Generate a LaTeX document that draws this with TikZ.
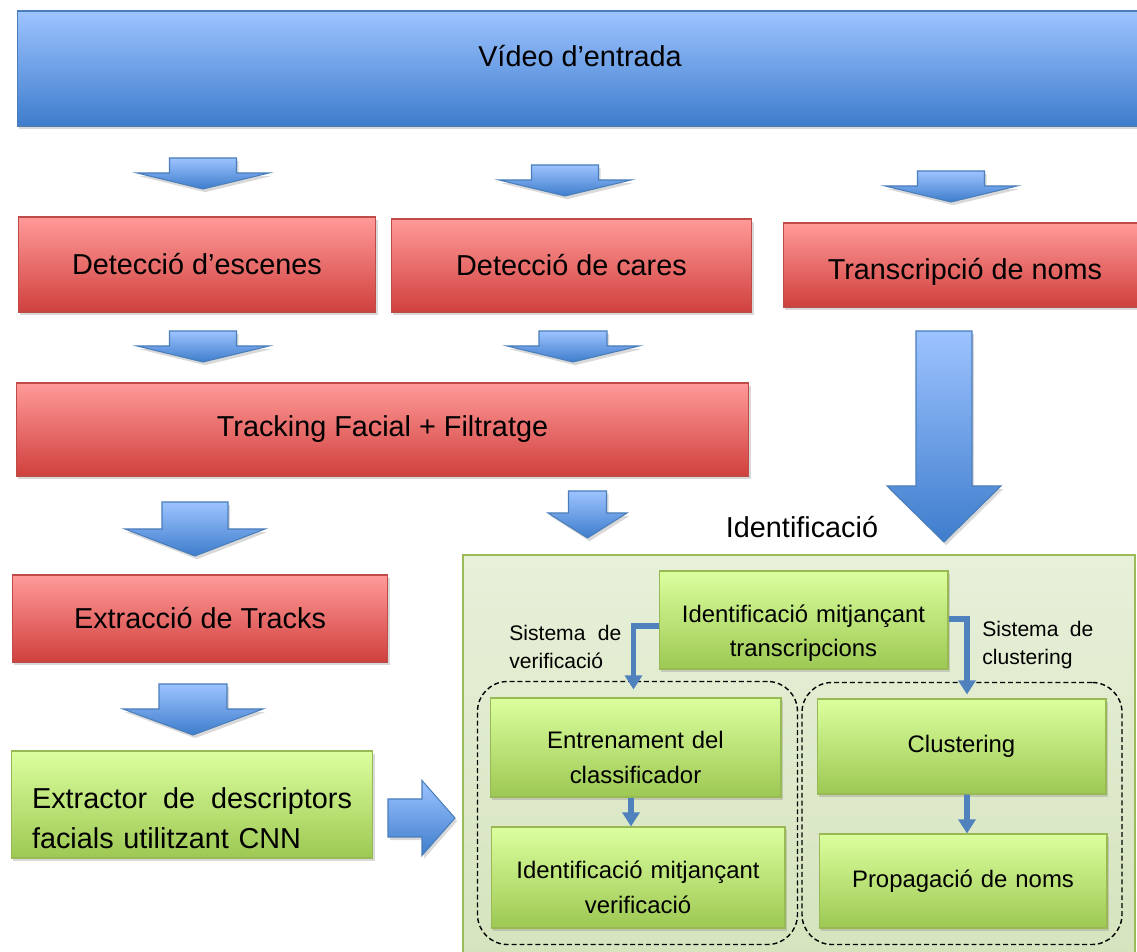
\documentclass[tikz,border=0pt]{standalone}
\usepackage{fontspec}
\setmainfont{Liberation Sans}
\usetikzlibrary{arrows.meta, shadows, fit, calc}
\definecolor{cBlueTop}{HTML}{9DC3FF}
\definecolor{cBlueBot}{HTML}{3E7DCC}
\definecolor{cBlueLine}{HTML}{4A7EBB}
\definecolor{cRedTop}{HTML}{FF9A99}
\definecolor{cRedBot}{HTML}{D0403D}
\definecolor{cRedLine}{HTML}{BE4B48}
\definecolor{cGreenTop}{HTML}{DBFF9E}
\definecolor{cGreenBot}{HTML}{9DC853}
\definecolor{cGreenLine}{HTML}{98B954}
\definecolor{cPanelTop}{HTML}{E7F0D9}
\definecolor{cPanelBot}{HTML}{D5E3BD}
\definecolor{cPanelLine}{HTML}{9BBB59}
\definecolor{cFlow}{HTML}{4F81BD}
\tikzset{
  boxshadow/.style={
    drop shadow={shadow xshift=1.2pt, shadow yshift=-1.8pt, opacity=0.3}
  },
  stagebox/.style={
    draw=#1Line, top color=#1Top, bottom color=#1Bot, line width=0.6pt,
    align=center, inner sep=2pt, boxshadow,
    font=\fontsize{16.4}{22.7}\selectfont
  },
  substep/.style={
    stagebox=cGreen, text width=5.4cm, font=\fontsize{13.6}{19.9}\selectfont
  },
  textdrop/.style={
    execute at begin node={\rule{0pt}{#1}}
  },
  maintext/.style={
    font=\fontsize{16.4}{22.7}\selectfont, inner sep=0pt
  },
  sidenote/.style={
    font=\fontsize{12}{15.6}\selectfont, align=left, inner sep=0pt
  },
  panel/.style={
    draw=cPanelLine, top color=cPanelTop, bottom color=cPanelBot,
    line width=1pt
  },
  groupframe/.style={
    draw=black, dash pattern=on 2.8pt off 1.7pt, line width=0.8pt,
    rounded corners=0.6cm, inner ysep=0.32cm
  },
  flowarrow/.style={
    draw=cFlow, line width=3.2pt, -{Triangle[width=9.6pt, length=8pt]}
  },
  blockarrow/.style={
    draw=cBlueLine, line width=0.6pt, top color=cBlueTop,
    bottom color=cBlueBot, boxshadow
  },
  pics/blkdown/.style n args={4}{code={
    \path[blockarrow] (-#1,0) -- (#1,0) -- (#1,#3) -- (#2,#3)
      -- (0,#3+#4) -- (-#2,#3) -- (-#1,#3) -- cycle;
  }},
  pics/blkright/.style n args={4}{code={
    \path[blockarrow] (0,-#1) -- (#3,-#1) -- (#3,-#2) -- (#3+#4,0)
      -- (#3,#2) -- (#3,#1) -- (0,#1) -- cycle;
  }},
}

\begin{document}
\begin{tikzpicture}[x=0.02cm, y=-0.02cm]
\useasboundingbox (0,0) rectangle (1137,952);

% ---- Input ----
\node[stagebox=cBlue, minimum width=22.6cm, minimum height=2.3cm]
  (video) at (582,68.5) {};
\node[maintext] (videotext) at (580,56) {Vídeo d’entrada};

% ---- Detection layer ----
\node[stagebox=cRed, minimum width=7.16cm, minimum height=1.9cm]
  (escenes) at (197,264.5) {Detecció d’escenes};
\node[stagebox=cRed, minimum width=7.22cm, minimum height=1.86cm]
  (cares) at (571.5,265.5) {Detecció de cares};
\node[stagebox=cRed, minimum width=7.28cm, minimum height=1.68cm,
      textdrop=0.68cm]
  (transcr) at (965,265) {Transcripció de noms};

% ---- Tracking ----
\node[stagebox=cRed, minimum width=14.66cm, minimum height=1.86cm]
  (tracking) at (382.5,429.5) {Tracking Facial + Filtratge};
\node[stagebox=cRed, minimum width=7.52cm, minimum height=1.74cm]
  (tracks) at (200,618.5) {Extracció de Tracks};
\node[stagebox=cGreen, minimum width=7.24cm, minimum height=2.14cm,
      text width=6.4cm, align=left, textdrop=0.96cm]
  (extractor) at (192,804.5)
  {Extractor\hfill de\hfill descriptors\\facials utilitzant CNN};

% ---- Identification panel ----
\node[panel, minimum width=13.44cm, minimum height=8.3cm]
  (idpanel) at (799,762.5) {};
\node[maintext, anchor=base] (idtitle) at (802,538) {Identificació};

\node[substep, minimum width=5.78cm, minimum height=1.96cm, textdrop=0.88cm]
  (topid) at (803.5,620) {Identificació mitjançant\\transcripcions};
\node[substep, minimum width=5.82cm, minimum height=1.98cm, textdrop=0.76cm]
  (entren) at (635.5,747.5) {Entrenament del\\classificador};
\node[substep, minimum width=5.88cm, minimum height=2.02cm, textdrop=0.76cm]
  (verif) at (638,877.5) {Identificació mitjançant\\verificació};
\node[substep, minimum width=5.78cm, minimum height=1.9cm]
  (clust) at (961.5,746.5) {Clustering};
\node[substep, minimum width=5.76cm, minimum height=1.88cm]
  (prop) at (963,881) {Propagació de noms};

% side notes
\node[sidenote, text width=2.24cm, anchor=west] (verifnote) at (509,647)
  {Sistema\hfill de\\verificació};
\node[sidenote, text width=2.22cm, anchor=west] (clustnote) at (982,645)
  {Sistema\hfill de\\clustering};

% dashed groups
\node[groupframe, fit=(entren)(verif), inner xsep=0.24cm] (verifgroup) {};
\node[groupframe, fit=(clust)(prop), inner xsep=0.29cm] (clustgroup) {};

% ---- Block arrows ----
\pic at (203,158) {blkdown={33.5}{66}{15}{16}};
\pic at (565,165) {blkdown={33.5}{66}{15}{16}};
\pic at (951,171) {blkdown={33.5}{66}{15}{16}};
\pic at (203,331) {blkdown={33.5}{66}{15}{16}};
\pic at (573,331) {blkdown={34}{66}{15}{16}};
\pic at (944,331) {blkdown={28}{57}{155}{56}};
\pic at (195,502) {blkdown={33}{70}{27}{27}};
\pic at (587.5,491) {blkdown={19}{39.5}{22}{25}};
\pic at (193,684) {blkdown={34}{70}{25}{26}};
\pic at (388,818) {blkright={19}{37.5}{34}{33}};

% ---- Flow inside the panel ----
\draw[flowarrow] ($(topid.west)+(0,6)$) -| ($(entren.north)+(-2,-8)$);
\draw[flowarrow] ($(topid.east)+(0,-1)$) -| ($(clust.north)+(5.5,-4)$);
\draw[flowarrow] ($(entren.south)+(-4.5,0)$) -- ($(verif.north)+(-7,0)$);
\draw[flowarrow] ($(clust.south)+(5.5,0)$) -- ($(prop.north)+(4,0)$);

\end{tikzpicture}
\end{document}
